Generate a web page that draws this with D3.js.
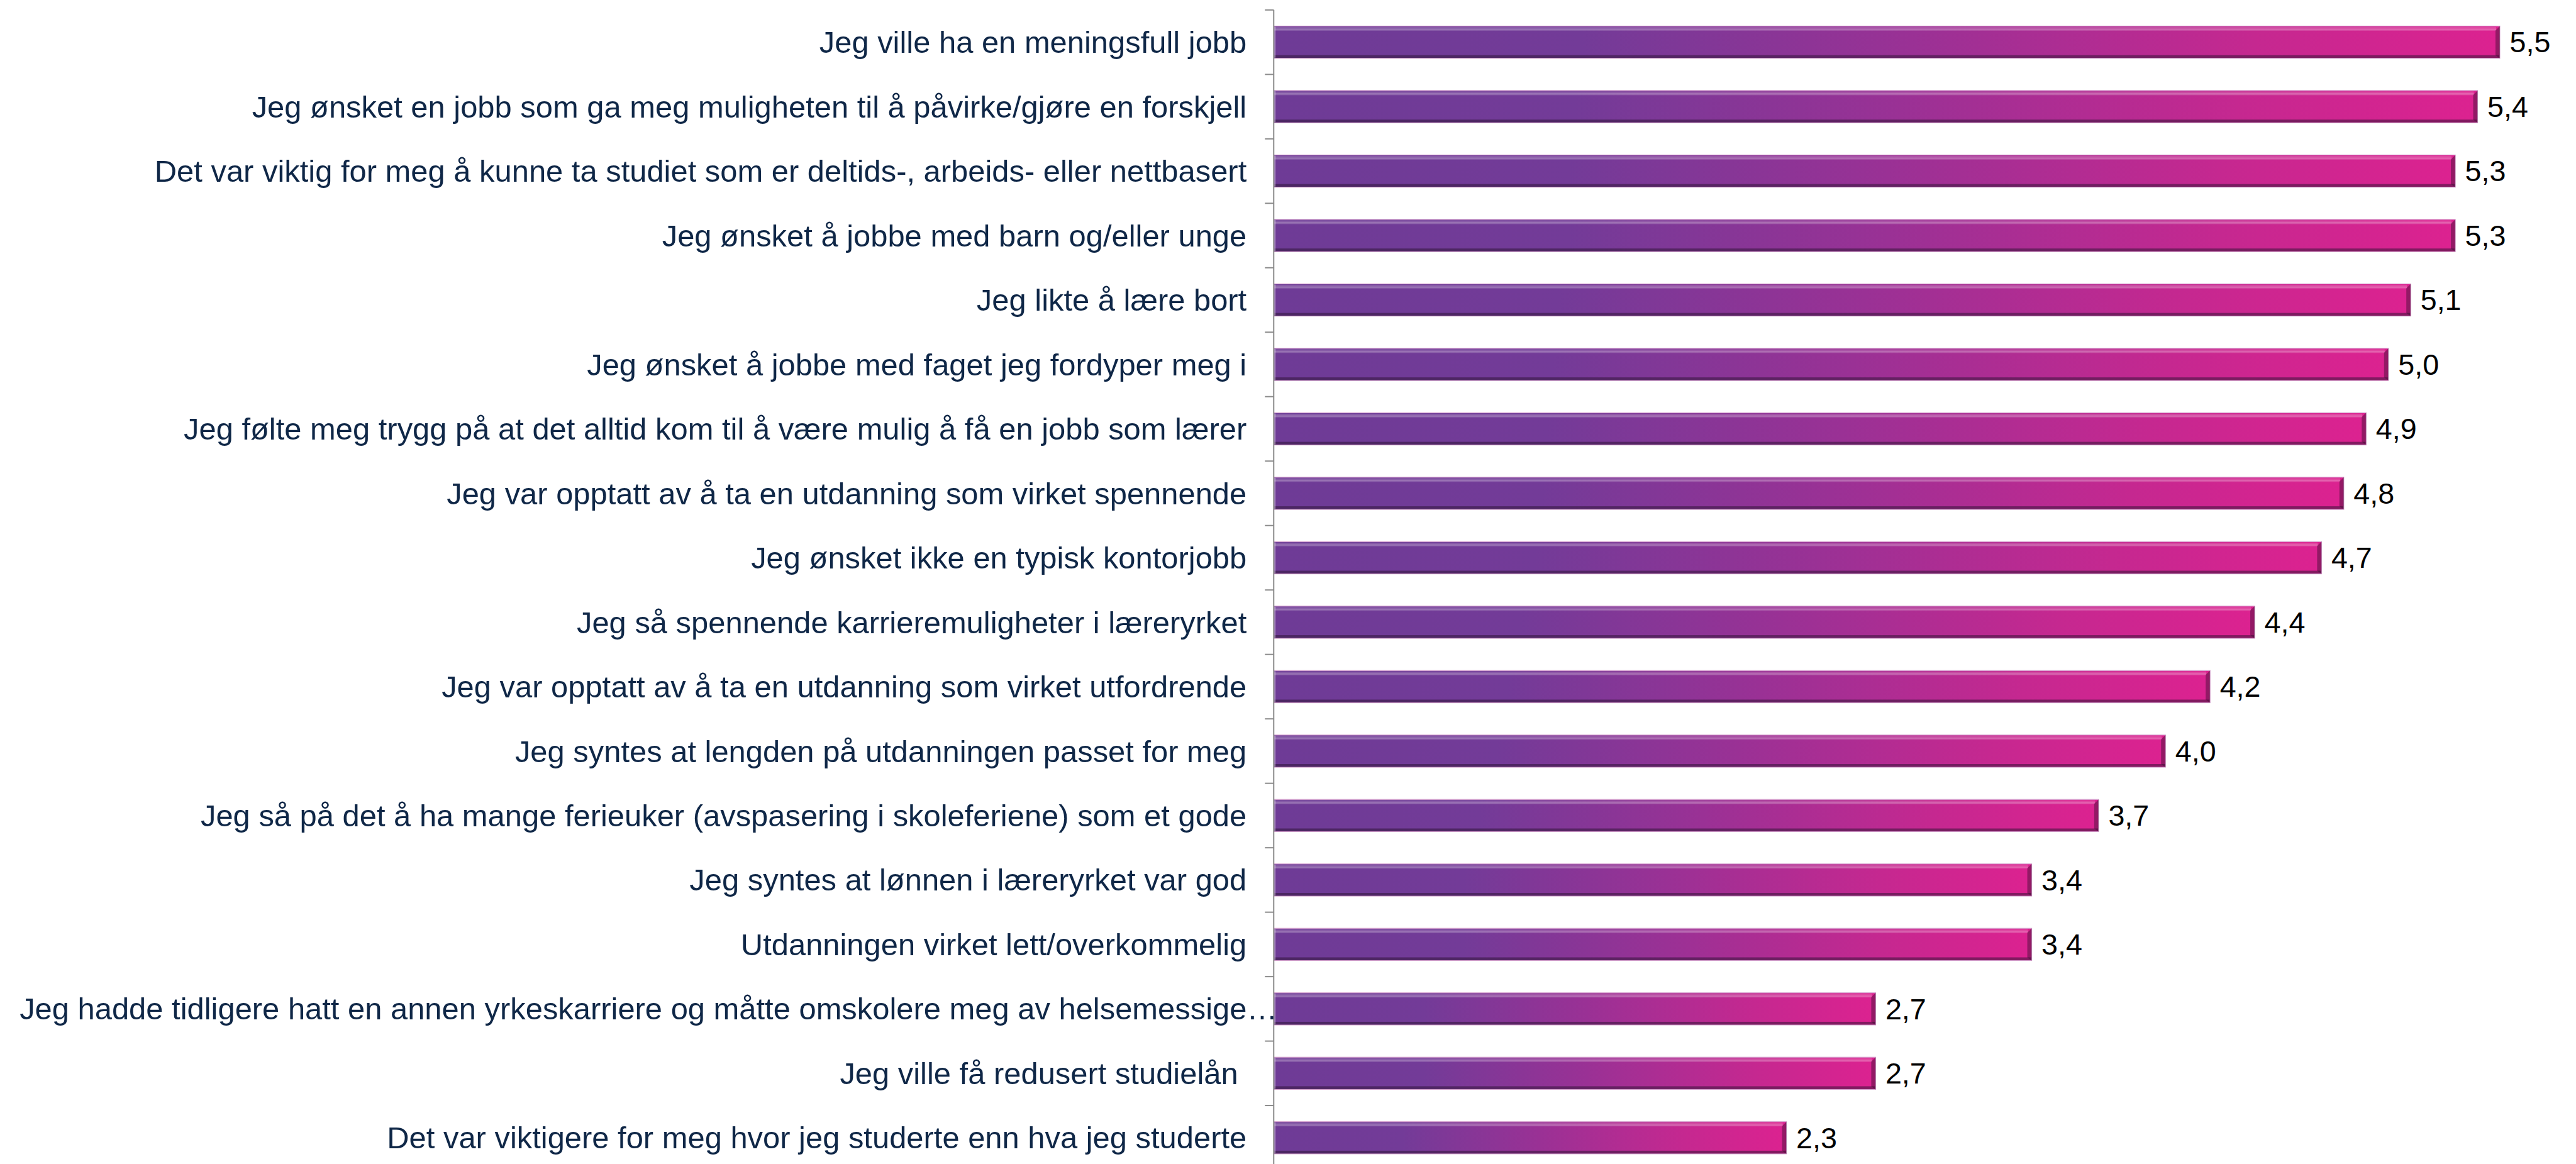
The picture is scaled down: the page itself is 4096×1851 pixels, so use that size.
<!doctype html>
<html>
  <head>
    <meta charset="utf-8">
    <script src="https://cdnjs.cloudflare.com/ajax/libs/d3/7.8.5/d3.min.js"></script>
    <style>
      html, body { margin: 0; padding: 0; background: #fff; overflow: hidden; }
      svg { display: block; }
    </style>
  </head>
  <body>
    <div id="viz">
      <svg style="width:4096px;height:1851px;"></svg>
    </div>
    <script>
      // survey statements (top to bottom) and their mean scores
      var categories = [
        "Jeg ville ha en meningsfull jobb",
        "Jeg ønsket en jobb som ga meg muligheten til å påvirke/gjøre en forskjell",
        "Det var viktig for meg å kunne ta studiet som er deltids-, arbeids- eller nettbasert",
        "Jeg ønsket å jobbe med barn og/eller unge",
        "Jeg likte å lære bort",
        "Jeg ønsket å jobbe med faget jeg fordyper meg i",
        "Jeg følte meg trygg på at det alltid kom til å være mulig å få en jobb som lærer",
        "Jeg var opptatt av å ta en utdanning som virket spennende",
        "Jeg ønsket ikke en typisk kontorjobb",
        "Jeg så spennende karrieremuligheter i læreryrket",
        "Jeg var opptatt av å ta en utdanning som virket utfordrende",
        "Jeg syntes at lengden på utdanningen passet for meg",
        "Jeg så på det å ha mange ferieuker (avspasering i skoleferiene) som et gode",
        "Jeg syntes at lønnen i læreryrket var god",
        "Utdanningen virket lett/overkommelig",
        "Jeg hadde tidligere hatt en annen yrkeskarriere og måtte omskolere meg av helsemessige…",
        "Jeg ville få redusert studielån ",
        "Det var viktigere for meg hvor jeg studerte enn hva jeg studerte"
      ];
      var values = [5.5, 5.4, 5.3, 5.3, 5.1, 5.0, 4.9, 4.8, 4.7, 4.4, 4.2, 4.0, 3.7, 3.4, 3.4, 2.7, 2.7, 2.3];
      var xDomain = [0, 6];

      var k = 0.916;
      var axisX = 2211 * k;
      var topY = 17.3 * k;
      var step = 111.88 * k;
      var unit = 387 * k;

      var svg = d3.select("svg");
      var defs = svg.append("defs");

      var grad = defs.append("linearGradient")
        .attr("id", "barGrad")
        .attr("x1", "0").attr("x2", "1").attr("y1", "0").attr("y2", "0");
      [[0, "#6e3b96"], [0.25, "#733b98"], [0.52, "#9a3195"], [0.8, "#c52890"], [1, "#dc2290"]]
        .forEach(function (s) {
          grad.append("stop").attr("offset", s[0]).attr("stop-color", s[1]);
        });

      var xScale = d3.scaleLinear().domain(xDomain)
        .range([axisX, axisX + (xDomain[1] - xDomain[0]) * unit]);
      var yScale = d3.scaleBand().domain(categories)
        .range([topY, topY + categories.length * step])
        .paddingInner(0.5).paddingOuter(0.25);

      var fmt = d3.formatLocale({ decimal: ",", thousands: " ", grouping: [3], currency: ["", ""] }).format(".1f");

      var data = categories.map(function (c, i) { return { cat: c, val: values[i] }; });

      var bars = svg.append("g").selectAll("g.bar")
        .data(data).enter().append("g").attr("class", "bar");

      var bh = yScale.bandwidth();

      bars.append("rect")
        .attr("x", xScale(0))
        .attr("y", d => yScale(d.cat))
        .attr("width", d => xScale(d.val) - xScale(0))
        .attr("height", bh)
        .attr("fill", "url(#barGrad)")
        .attr("stroke", "#d6a3cf")
        .attr("stroke-width", 1.2);

      // bevel: highlight on top, shade at bottom and right end
      bars.append("rect")
        .attr("x", xScale(0) + 1)
        .attr("y", d => yScale(d.cat) + 1.5)
        .attr("width", d => xScale(d.val) - xScale(0) - 7)
        .attr("height", 6)
        .attr("fill", "#fff").attr("opacity", 0.16);
      bars.append("rect")
        .attr("x", xScale(0) + 1)
        .attr("y", d => yScale(d.cat) + 4)
        .attr("width", d => xScale(d.val) - xScale(0) - 7)
        .attr("height", 2.5)
        .attr("fill", "#fff").attr("opacity", 0.14);
      bars.append("rect")
        .attr("x", xScale(0) + 1)
        .attr("y", d => yScale(d.cat) + bh - 5)
        .attr("width", d => xScale(d.val) - xScale(0) - 2)
        .attr("height", 4.5)
        .attr("fill", "#2a1230").attr("opacity", 0.5);
      bars.append("path")
        .attr("d", function (d) {
          var x1 = xScale(d.val), y0 = yScale(d.cat);
          return "M" + (x1 - 7) + "," + (y0 + 7) + "L" + x1 + "," + y0 +
            "L" + x1 + "," + (y0 + bh) + "L" + (x1 - 7) + "," + (y0 + bh - 5) + "Z";
        })
        .attr("fill", "#3a1030").attr("opacity", 0.45);
      bars.append("rect")
        .attr("x", xScale(0) + 0.5)
        .attr("y", d => yScale(d.cat) + 1)
        .attr("width", 2.5)
        .attr("height", bh - 2)
        .attr("fill", "#fff").attr("opacity", 0.35);

      // value labels
      bars.append("text")
        .attr("x", d => xScale(d.val) + 15.5)
        .attr("y", d => yScale(d.cat) + bh / 2)
        .attr("dy", "0.35em")
        .style("font-family", "Arial, 'Liberation Sans', sans-serif")
        .style("font-size", "46.7px")
        .attr("fill", "#000")
        .text(d => fmt(d.val));

      // category axis
      var yAxis = d3.axisLeft(yScale).tickSize(0).tickFormat("");
      var axisG = svg.append("g").attr("id", "yAxisG")
        .attr("transform", "translate(" + axisX + ",0)");
      axisG.call(yAxis);
      axisG.select(".domain").attr("stroke", "#8c8c8c").attr("stroke-width", 2)
        .attr("d", "M0," + yScale.range()[0] + "V" + yScale.range()[1]);

      // tick marks between categories
      var bounds = d3.range(categories.length + 1).map(i => yScale.range()[0] + i * yScale.step());
      axisG.selectAll("line.sep").data(bounds).enter().append("line")
        .attr("class", "sep")
        .attr("x1", -14).attr("x2", 0)
        .attr("y1", d => d).attr("y2", d => d)
        .attr("stroke", "#8c8c8c").attr("stroke-width", 2);

      var labelX = 2164 * k;
      var leftMargin = 34 * k;
      var labels = svg.append("g").selectAll("text.cat")
        .data(categories).enter().append("text")
        .attr("class", "cat")
        .attr("xml:space", "preserve")
        .style("white-space", "pre")
        .attr("x", labelX)
        .attr("y", d => yScale(d) + bh / 2)
        .attr("dy", "0.35em")
        .attr("text-anchor", "end")
        .style("font-family", "Arial, 'Liberation Sans', sans-serif")
        .style("font-size", "48.9px")
        .attr("fill", "#0f2747")
        .text(d => d);

      // labels too wide for the margin start at the left edge instead
      labels.each(function () {
        var bb = this.getBBox();
        if (bb.x < leftMargin) {
          d3.select(this).attr("text-anchor", "start").attr("x", leftMargin);
        }
      });
    </script>
  </body>
</html>
